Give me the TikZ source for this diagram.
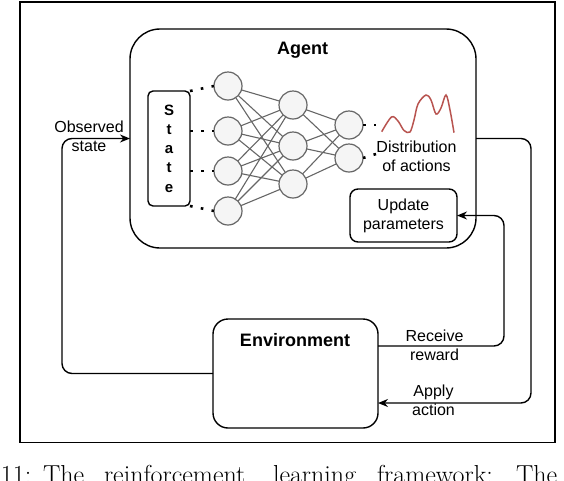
\documentclass[tikz,border=0pt]{standalone}
\usepackage{fontspec}
\newfontfamily\diag{Liberation Sans}
\usetikzlibrary{arrows.meta,calc}
\definecolor{nline}{HTML}{666666}
\definecolor{nfill}{HTML}{F5F5F5}
\definecolor{curvecol}{HTML}{B85450}
\begin{document}
\begin{tikzpicture}[x=1pt,y=-1pt,
  every node/.style={inner sep=0pt, outer sep=0pt},
  lbl/.style={font=\diag\fontsize{16}{19}\selectfont, align=center},
  ttl/.style={font=\diag\bfseries\fontsize{18}{21}\selectfont},
  rbox/.style={draw, line width=1.4pt, rounded corners=#1},
  frm/.style={draw, line width=1.3pt},
  neuron/.style={circle, draw=nline, fill=nfill, line width=1.2pt, minimum size=28pt},
  syn/.style={draw=nline, line width=1.1pt},
  dotl/.style={line width=2.6pt, dash pattern=on 2.6pt off 8.4pt},
  conn/.style={line width=1.4pt, rounded corners=10pt},
  tip/.style={-{Stealth[length=10pt,width=8pt]}},
  curvestyle/.style={draw=curvecol, line width=1.5pt},
  captxt/.style={anchor=base west, font=\fontsize{26}{30}\selectfont}
]
\useasboundingbox (0,0) rectangle (564,480);

% outer frame
\node[frm, minimum width=535pt, minimum height=440.7pt] (frame) at (287.5,222.3) {};

% agent
\node[rbox=30pt, minimum width=346pt, minimum height=219pt] (agent) at (303,138.5) {};
\node[ttl] (agentlabel) at (302.5,50) {Agent};

% state box
\node[rbox=5pt, minimum width=42pt, minimum height=115pt,
      font=\diag\bfseries\fontsize{15}{19.3}\selectfont, align=center] (state) at (169,148.5) {S\\t\\a\\t\\e};

% neurons
\node[neuron] (i1) at (228,86) {};
\node[neuron] (i2) at (228,131) {};
\node[neuron] (i3) at (228,171) {};
\node[neuron] (i4) at (228,211) {};
\node[neuron] (h1) at (293,105) {};
\node[neuron] (h2) at (293,146) {};
\node[neuron] (h3) at (293,184) {};
\node[neuron] (o1) at (349,125) {};
\node[neuron] (o2) at (349,158) {};

\foreach \i in {1,...,4}
  \foreach \h in {1,2,3}
    \draw[syn] (i\i) -- (h\h);
\foreach \h in {1,2,3}
  \foreach \o in {1,2}
    \draw[syn] (h\h) -- (o\o);

% dotted links
\draw[dotl] (state.north east) -- (i1.west);
\draw[dotl] (state.east |- i2) -- (i2.west);
\draw[dotl] (state.east |- i3) -- (i3.west);
\draw[dotl] (state.south east) -- (i4.west);
\coordinate (d1) at (376,125);
\coordinate (d2) at (376,154);
\draw[dotl] (o1.east) -- (d1);
\draw[dotl] (o2.east) -- (d2);

% distribution curve
\draw[curvestyle] plot[smooth, tension=0.55] coordinates {(381.7,131.7) (391.5,117) (398,121) (404,130.5) (410,132) (414,120) (418,104) (426,95) (431,100) (436,114) (441,108) (446,95) (450,110) (454,132.7)};
\node[lbl] (dist) at (416.5,156) {Distribution\\of actions};

% update parameters
\node[rbox=8pt, minimum width=107pt, minimum height=53pt, lbl] (upd) at (403.5,215.5) {Update\\parameters};

% environment
\node[rbox=15pt, minimum width=165pt, minimum height=109pt] (env) at (295.5,373.5) {};
\node[ttl] (envlabel) at (295,340) {Environment};

% connectors
\coordinate (obsx) at (62,0);
\coordinate (actx) at (531,0);
\coordinate (rewx) at (504,0);
\coordinate (envA) at ($(env.east)+(0,29.5)$);
\coordinate (envR) at ($(env.east)+(0,-27.5)$);
\draw[conn,tip] (env.west) -- (obsx |- env.west) -- (obsx |- agent.west) -- (agent.west);
\draw[conn,tip] (agent.east) -- (actx |- agent.east) -- (actx |- envA) -- (envA);
\draw[conn,tip] (envR) -- (rewx |- envR) -- (rewx |- upd.east) -- (upd.east);

\node[lbl] (obslabel) at (89,136) {Observed\\state};
\node[lbl] (rewlabel) at (434.5,345.5) {Receive\\reward};
\node[lbl] (actlabel) at (433.5,400.5) {Apply\\action};

% caption (cut off at the bottom)
\begin{scope}
\clip (0,0) rectangle (564,480);
\node[captxt] (c1) at (1,483) {11:};
\node[captxt] (c2) at (43,483) {The};
\node[captxt] (c3) at (104,483) {reinforcement};
\node[captxt] (c4) at (273,483) {learning};
\node[captxt] (c5) at (377,483) {framework:};
\node[captxt] (c6) at (516,483) {The};
\end{scope}
\end{tikzpicture}
\end{document}
